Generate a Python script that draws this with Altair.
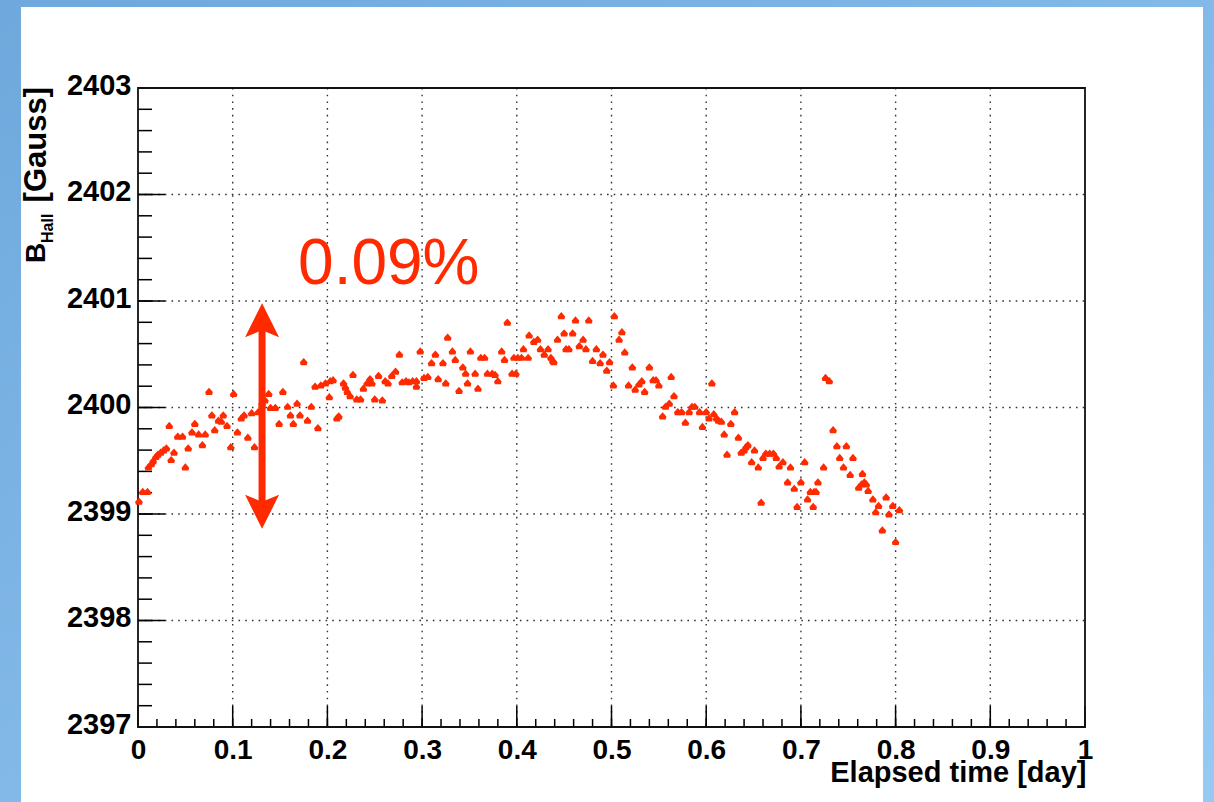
import altair as alt
import pandas as pd
import numpy as np

# ---- data ----
seg_a = [(0.001,2399.12),(0.005,2399.21),(0.010,2399.21),(0.011,2399.44),(0.014,2399.47),
         (0.016,2399.50),(0.019,2399.54),(0.021,2399.56),(0.024,2399.58),(0.027,2399.60),
         (0.030,2399.62),(0.033,2399.83),(0.035,2399.51),(0.038,2399.58),(0.042,2399.73),
         (0.047,2399.73),(0.050,2399.44),(0.053,2399.62),(0.057,2399.77),(0.060,2399.85),
         (0.064,2399.75),(0.068,2399.65),(0.071,2399.75),(0.075,2400.15),(0.078,2399.93),
         (0.081,2399.79),(0.085,2399.88),(0.088,2399.87),(0.090,2399.93),(0.094,2399.83),
         (0.098,2399.63),(0.101,2400.13),(0.105,2399.77),(0.109,2399.90),(0.112,2399.93),
         (0.116,2399.72),(0.120,2399.95),(0.123,2399.63),(0.127,2399.96),(0.131,2400.04),
         (0.134,2400.07),(0.138,2400.13),(0.140,2400.00),(0.145,2400.00),(0.149,2399.85),
         (0.153,2400.15),(0.158,2400.01),(0.161,2399.93),(0.164,2399.85),(0.168,2400.04),
         (0.171,2399.93),(0.175,2400.43),(0.179,2399.88),(0.183,2400.01),(0.187,2400.20),
         (0.190,2399.81),(0.193,2400.21),(0.198,2400.23),(0.202,2400.10),(0.203,2400.25)]
seg_b = [(0.206,2400.26),(0.210,2399.90),(0.212,2399.92),(0.217,2400.23),(0.219,2400.19),
         (0.221,2400.15),(0.224,2400.11),(0.227,2400.31),(0.231,2400.08),(0.235,2400.08),
         (0.238,2400.18),(0.242,2400.23),(0.245,2400.27),(0.247,2400.23),(0.250,2400.08),
         (0.254,2400.30),(0.258,2400.07),(0.261,2400.25),(0.264,2400.23),(0.268,2400.30),
         (0.272,2400.34),(0.276,2400.50),(0.279,2400.24),(0.283,2400.25),(0.286,2400.24),
         (0.290,2400.25),(0.294,2400.25),(0.294,2400.20),(0.298,2400.53),(0.302,2400.28),
         (0.306,2400.29),(0.310,2400.42),(0.314,2400.50),(0.317,2400.27),(0.322,2400.42),
         (0.325,2400.23),(0.327,2400.66),(0.332,2400.53),(0.335,2400.45),(0.339,2400.16),
         (0.343,2400.38),(0.346,2400.32),(0.348,2400.23),(0.351,2400.53),(0.356,2400.32),
         (0.359,2400.18),(0.362,2400.47),(0.366,2400.47),(0.369,2400.32),(0.374,2400.32),
         (0.377,2400.31),(0.380,2400.25),(0.384,2400.53),(0.387,2400.45),(0.390,2400.80),
         (0.395,2400.32),(0.397,2400.47),(0.399,2400.32),(0.401,2400.47),(0.405,2400.47),
         (0.407,2400.55),(0.413,2400.68)]
seg_c = [(0.412,2400.47),(0.418,2400.62),(0.422,2400.64),(0.425,2400.55),(0.429,2400.50),
         (0.433,2400.55),(0.436,2400.47),(0.438,2400.44),(0.439,2400.43),(0.443,2400.64),
         (0.447,2400.86),(0.450,2400.70),(0.452,2400.55),(0.455,2400.55),(0.459,2400.70),
         (0.462,2400.82),(0.466,2400.58),(0.470,2400.64),(0.473,2400.55),(0.476,2400.82),
         (0.480,2400.44),(0.484,2400.55),(0.488,2400.42),(0.491,2400.50),(0.495,2400.35),
         (0.498,2400.43),(0.502,2400.21),(0.503,2400.86),(0.508,2400.64),(0.511,2400.71),
         (0.514,2400.52),(0.518,2400.21),(0.522,2400.38),(0.525,2400.17),(0.529,2400.22),
         (0.532,2400.25),(0.535,2400.15),(0.540,2400.38),(0.544,2400.26),(0.547,2400.26),
         (0.550,2400.21),(0.554,2399.92),(0.557,2400.01),(0.561,2400.04),(0.563,2400.29),
         (0.566,2400.11),(0.570,2399.96),(0.574,2399.96),(0.578,2399.86),(0.582,2399.96),
         (0.585,2400.01),(0.588,2400.01),(0.593,2399.96),(0.596,2399.82),(0.600,2399.96),
         (0.603,2399.90),(0.606,2400.23)]
seg_d = [(0.608,2399.94),(0.611,2399.90),(0.613,2399.88),(0.616,2399.87),(0.619,2399.75),
         (0.622,2399.56),(0.626,2399.85),(0.630,2399.96),(0.634,2399.72),(0.637,2399.58),
         (0.640,2399.60),(0.642,2399.63),(0.644,2399.65),(0.648,2399.49),(0.651,2399.60),
         (0.655,2399.44),(0.658,2399.11),(0.660,2399.53),(0.663,2399.57),(0.667,2399.57),
         (0.671,2399.57),(0.674,2399.53),(0.677,2399.45),(0.681,2399.49),(0.686,2399.30),
         (0.689,2399.44),(0.693,2399.24),(0.696,2399.07),(0.700,2399.30),(0.704,2399.49),
         (0.707,2399.14),(0.710,2399.21),(0.713,2399.07),(0.714,2399.21),(0.716,2399.21),
         (0.718,2399.30),(0.724,2399.44),(0.726,2400.28),(0.730,2400.25),(0.734,2399.79),
         (0.738,2399.64),(0.741,2399.53),(0.745,2399.44),(0.748,2399.64),(0.752,2399.37),
         (0.755,2399.53),(0.761,2399.25),(0.764,2399.28),(0.765,2399.38),(0.767,2399.30),
         (0.769,2399.28),(0.771,2399.22),(0.776,2399.14),(0.779,2399.02),(0.782,2399.08),
         (0.786,2398.85),(0.790,2399.16),(0.793,2399.00),(0.797,2399.08),(0.800,2398.74),
         (0.804,2399.04)]

x_major = [0, 0.1, 0.2, 0.3, 0.4, 0.5, 0.6, 0.7, 0.8, 0.9, 1]
y_major = [2397, 2398, 2399, 2400, 2401, 2402, 2403]
x_minor = [round(v, 3) for v in np.arange(0, 1.0001, 0.02)]
y_minor = [round(v, 2) for v in np.arange(2397, 2403.001, 0.2)]

arrow_t = 0.131
arrow_top = 2400.82
arrow_bottom = 2399.02
label_text = "0.09%"
label_t, label_b = 0.169, 2401.16

RED = "#ff2a00"
W, H = 947, 639
FONT = "Liberation Sans"

pts = pd.DataFrame(seg_a + seg_b + seg_c + seg_d, columns=["t", "b"])

xs = alt.Scale(domain=[0, 1], nice=False, zero=False)
ys = alt.Scale(domain=[2397, 2403], nice=False, zero=False)
xaxis = alt.Axis(values=x_major, format=".1~f", ticks=False, domain=False, grid=False,
                 labelFont=FONT, labelFontWeight="bold", labelFontSize=28, labelColor="black",
                 labelPadding=9, zindex=1, labelFlush=False, labelOverlap=False,
                 title="Elapsed time [day]", titleFont=FONT, titleFontWeight="bold",
                 titleFontSize=29, titleColor="black", titleAlign="right",
                 titleBaseline="alphabetic", titleX=W + 1, titleY=54)
yaxis = alt.Axis(values=y_major, format="d", ticks=False, domain=False, grid=False,
                 labelFont=FONT, labelFontWeight="bold", labelFontSize=29, labelColor="black",
                 labelPadding=7, labelOffset=-3, zindex=1, labelFlush=False, labelOverlap=False,
                 title="")

def X(f="t"):
    return alt.X(f"{f}:Q", scale=xs, axis=xaxis)

def Y(f="b"):
    return alt.Y(f"{f}:Q", scale=ys, axis=yaxis)

one = pd.DataFrame({"t": [0.0], "b": [2400.0]})

grad = alt.Gradient(gradient="linear",
                    stops=[alt.GradientStop(color="#6ea8dc", offset=0),
                           alt.GradientStop(color="#96caf5", offset=1)],
                    x1=0, y1=0, x2=1, y2=1)
bg = alt.Chart(one).mark_rect(color=grad).encode(
    x=alt.value(-138), x2=alt.value(1214 - 138), y=alt.value(-88), y2=alt.value(802 - 88))
panel = alt.Chart(one).mark_rect(color="white").encode(
    x=alt.value(21 - 138), x2=alt.value(1203 - 138), y=alt.value(7 - 88), y2=alt.value(802 - 88))

grid_style = dict(color="#333333", strokeWidth=1.4, strokeDash=[1.6, 5.1])
gx = alt.Chart(pd.DataFrame({"t": x_major[1:-1]})).mark_rule(**grid_style).encode(
    x=X(), y=alt.value(0), y2=alt.value(H))
gy = alt.Chart(pd.DataFrame({"b": y_major[1:-1]})).mark_rule(**grid_style).encode(
    y=Y(), x=alt.value(0), x2=alt.value(W))

tick_style = dict(color="black", strokeWidth=1.5)
ty_major = alt.Chart(pd.DataFrame({"b": y_major})).mark_rule(**tick_style).encode(
    y=Y(), x=alt.value(0), x2=alt.value(27))
ty_minor = alt.Chart(pd.DataFrame({"b": y_minor})).mark_rule(**tick_style).encode(
    y=Y(), x=alt.value(0), x2=alt.value(14))
tx_major = alt.Chart(pd.DataFrame({"t": x_major})).mark_rule(**tick_style).encode(
    x=X(), y=alt.value(H), y2=alt.value(H - 21))
tx_minor = alt.Chart(pd.DataFrame({"t": x_minor})).mark_rule(**tick_style).encode(
    x=X(), y=alt.value(H), y2=alt.value(H - 8))

frame = alt.Chart(one).mark_rect(fillOpacity=0, stroke="#111111", strokeWidth=1.8).encode(
    x=alt.value(0), x2=alt.value(W), y=alt.value(0), y2=alt.value(H))

marker = "M0,-1L1,0.15L0.8,0.9L-0.8,0.9L-1,0.15Z"
points = alt.Chart(pts).mark_point(shape=marker, filled=True, size=58,
                                   color=RED, opacity=1).encode(x=X(), y=Y())

arrow_df = pd.DataFrame({"t": [arrow_t], "b": [arrow_top], "b2": [arrow_bottom]})
shaft = alt.Chart(arrow_df).mark_rule(color=RED, strokeWidth=7).encode(
    x=X(), y=Y(), y2="b2:Q")
head_up = alt.Chart(pd.DataFrame({"t": [arrow_t], "b": [arrow_top]})).mark_point(
    shape="M0,-1L1,1L0,0.6L-1,1Z", filled=True, size=1156, color=RED, opacity=1).encode(
    x=X(), y=Y())
head_down = alt.Chart(pd.DataFrame({"t": [arrow_t], "b": [arrow_bottom]})).mark_point(
    shape="M0,1L1,-1L0,-0.6L-1,-1Z", filled=True, size=1156, color=RED, opacity=1).encode(
    x=X(), y=Y())

label = alt.Chart(pd.DataFrame({"t": [label_t], "b": [label_b], "s": [label_text]})).mark_text(
    align="left", baseline="alphabetic", font=FONT, fontSize=64, color=RED).encode(
    x=X(), y=Y(), text="s:N")

ytitle_b = alt.Chart(one).mark_text(text="B", angle=270, align="left", baseline="alphabetic",
                                    font=FONT, fontWeight="bold", fontSize=28, color="black").encode(
    x=alt.value(45 - 138), y=alt.value(263 - 88))
ytitle_sub = alt.Chart(one).mark_text(text="Hall", angle=270, align="left", baseline="alphabetic",
                                      font=FONT, fontWeight="bold", fontSize=16, color="black").encode(
    x=alt.value(53 - 138), y=alt.value(243 - 88))
ytitle_unit = alt.Chart(one).mark_text(text="[Gauss]", angle=270, align="right", baseline="alphabetic",
                                       font=FONT, fontWeight="bold", fontSize=31, color="black").encode(
    x=alt.value(46 - 138), y=alt.value(87 - 88))

chart = alt.layer(bg, panel, gx, gy, ty_major, ty_minor, tx_major, tx_minor, frame,
                  points, shaft, head_up, head_down, label,
                  ytitle_b, ytitle_sub, ytitle_unit).properties(
    width=W, height=H,
    padding={"left": 138, "top": 88, "right": 1214 - 138 - W, "bottom": 802 - 88 - H},
    autosize=alt.AutoSizeParams(type="none"),
    background="#7fb6e6",
).configure_view(strokeWidth=0)

chart.save("out.html", embed_options={"renderer": "svg", "actions": False})
